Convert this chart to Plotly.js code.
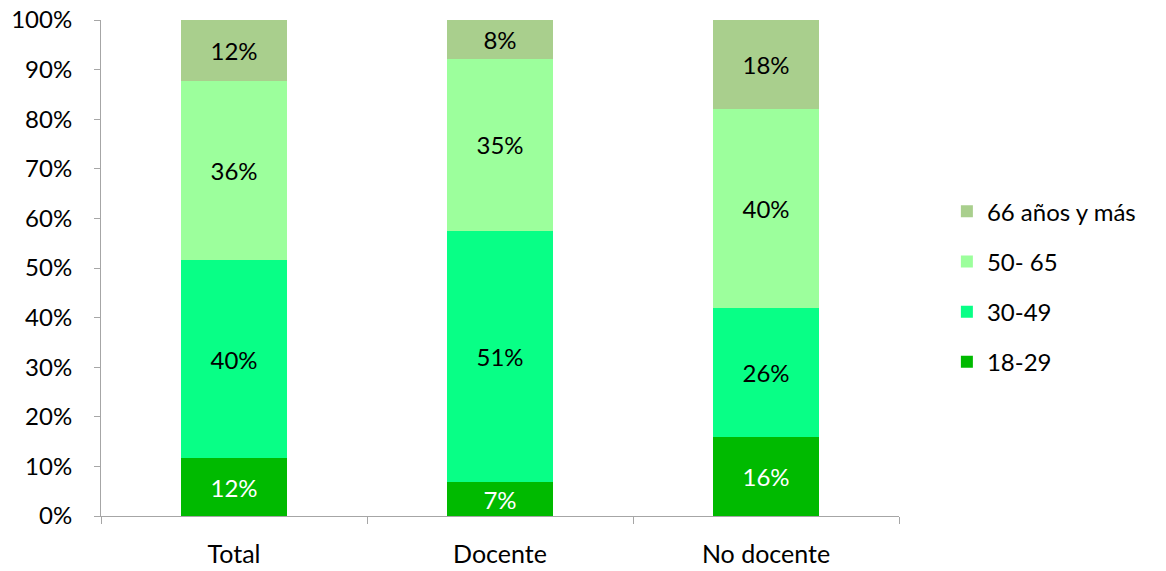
<!DOCTYPE html>
<html>
<head>
<meta charset="utf-8">
<script src="https://cdn.plot.ly/plotly-3.0.1.min.js"></script>
<style>html,body{margin:0;padding:0;background:#fff;}#chart{width:1166px;height:571px;}</style>
</head>
<body>
<div id="chart"></div>
<script>
const categories = ["Total", "Docente", "No docente"];
const seriesNames = ["18-29", "30-49", "50- 65", "66 años y más"];
const s18_29 = [11.6, 6.8, 15.9];
const s30_49 = [40.1, 50.7, 26.0];
const s50_65 = [36.0, 34.6, 40.2];
const s66 = [12.3, 7.9, 17.9];
const yTicks = [0, 10, 20, 30, 40, 50, 60, 70, 80, 90, 100];

const colors = ["#00BA00", "#08FF86", "#9CFF9C", "#A9CF8D"];
const textColors = ["#FFFFFF", "#000000", "#000000", "#000000"];
const values = [s18_29, s30_49, s50_65, s66];
const FONT = "Lato, 'Open Sans', sans-serif";

const traces = values.map((v, i) => ({
  type: "bar",
  name: seriesNames[i],
  x: categories,
  y: v,
  legendgroup: "g" + i,
  legendrank: 4 - i,
  marker: { color: colors[i], line: { width: 0 } },
  texttemplate: "%{y:.0f}%",
  textposition: "inside",
  insidetextanchor: "middle",
  textangle: 0,
  constraintext: "none",
  textfont: { family: FONT, size: 24, color: textColors[i] },
  hoverinfo: "skip"
}));

const layout = {
  width: 1166,
  height: 571,
  margin: { l: 101, r: 267, t: 20, b: 55 },
  barmode: "stack",
  bargap: 0.6,
  paper_bgcolor: "#FFFFFF",
  plot_bgcolor: "#FFFFFF",
  showlegend: true,
  legend: {
    x: 1.060, y: 0.659, xanchor: "left", yanchor: "top",
    traceorder: "grouped",
    tracegroupgap: 16,
    font: { family: FONT, size: 24, color: "#000000" },
    itemwidth: 30
  },
  xaxis: {
    type: "category",
    showline: true, linecolor: "#A6A6A6", linewidth: 1,
    ticks: "outside", tickson: "boundaries", ticklen: 7, tickcolor: "#A6A6A6",
    ticklabelstandoff: 16,
    showgrid: false, zeroline: false,
    tickfont: { family: FONT, size: 25, color: "#000000" }
  },
  yaxis: {
    range: [0, 100],
    tickvals: yTicks,
    ticktext: yTicks.map(t => t + "%"),
    showline: true, linecolor: "#A6A6A6", linewidth: 1,
    ticks: "outside", ticklen: 6, tickcolor: "#A6A6A6",
    ticklabelstandoff: 17,
    showgrid: false, zeroline: false,
    tickfont: { family: FONT, size: 24, color: "#000000" }
  }
};

Plotly.newPlot("chart", traces, layout, { displayModeBar: false, staticPlot: true });
</script>
</body>
</html>
